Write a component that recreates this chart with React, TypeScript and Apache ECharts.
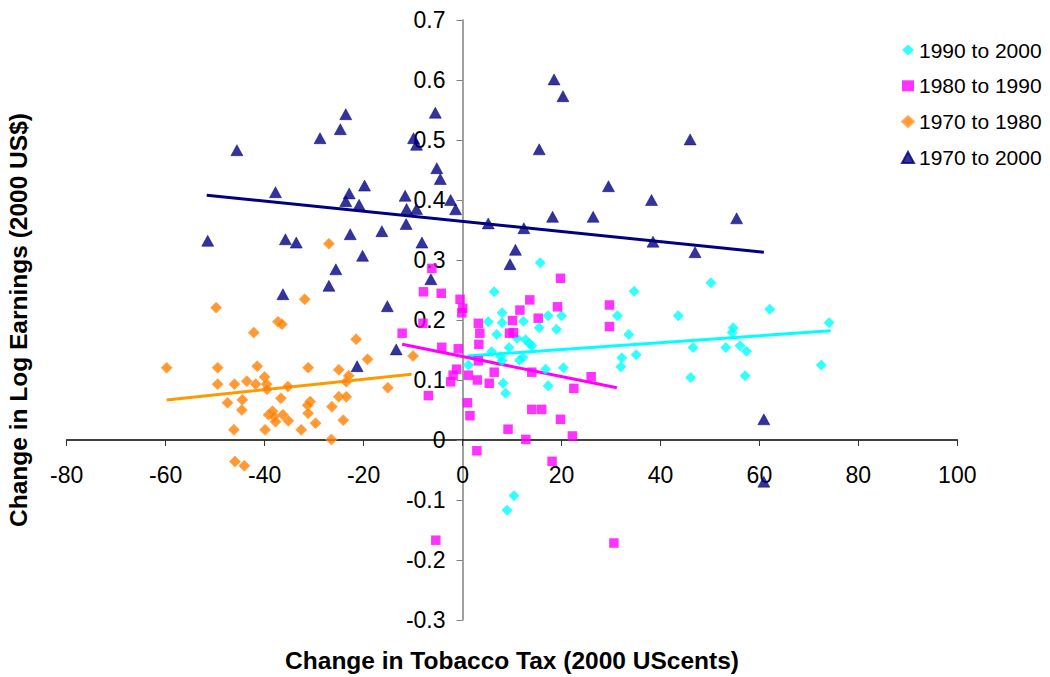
import React, { useEffect, useRef } from "react";
import * as echarts from "echarts";

// Tick settings
const xTicks = { min: -80, max: 100, interval: 20 };
const yTicks = { min: -0.3, max: 0.7, interval: 0.1 };

const legendNames = ["1990 to 2000", "1980 to 1990", "1970 to 1980", "1970 to 2000"];

// 1990 to 2000 (cyan diamonds)
const pts1990to2000: number[][] = [
  [1.2, 0.125], [5.2, 0.197], [5.9, 0.147], [6.4, 0.247], [6.9, 0.176], [7.7, 0.139],
  [8.0, 0.132], [8.0, 0.212], [8.0, 0.1955], [8.2, 0.0945], [8.7, 0.078], [9.4, 0.154],
  [9.0, -0.117], [10.4, -0.093], [11.0, 0.1695], [11.5, 0.133], [12.2, 0.138], [12.3, 0.198],
  [12.7, 0.167], [13.5, 0.161], [14.0, 0.157], [15.5, 0.187], [15.7, 0.2955], [16.8, 0.118],
  [17.3, 0.207], [17.3, 0.0905], [19.0, 0.1845], [20.0, 0.207], [20.4, 0.1205], [31.3, 0.207],
  [32.0, 0.122], [32.2, 0.137], [33.6, 0.176], [34.7, 0.248], [35.1, 0.142], [43.6, 0.207],
  [46.1, 0.104], [46.6, 0.154], [50.2, 0.262], [53.2, 0.154], [54.5, 0.179], [54.7, 0.187],
  [56.1, 0.157], [57.1, 0.107], [57.4, 0.148], [62.1, 0.218], [72.5, 0.125], [74.1, 0.1955],
];

// 1980 to 1990 (magenta squares)
const pts1980to1990: number[][] = [
  [-12.2, 0.178], [-8.0, 0.1945], [-7.9, 0.247], [-6.2, 0.286], [-4.3, 0.2445], [-6.9, 0.074],
  [-5.4, -0.167], [-4.2, 0.1545], [-0.85, 0.152], [-0.5, 0.2345], [0.05, 0.2195], [-0.15, 0.212],
  [-1.2, 0.118], [-1.9, 0.108], [-2.4, 0.097], [1.2, 0.108], [1.0, 0.062], [1.5, 0.0405],
  [2.9, -0.018], [3.2, 0.1945], [3.5, 0.178], [3.3, 0.1595], [3.2, 0.132], [3.0, 0.1],
  [5.4, 0.0945], [6.4, 0.113], [9.2, 0.018], [9.5, 0.178], [10.1, 0.199], [10.3, 0.179],
  [11.6, 0.2165], [12.8, 0.001], [13.6, 0.2335], [14.0, 0.113], [14.0, 0.051], [16.0, 0.051],
  [15.3, 0.203], [18.1, -0.0355], [19.2, 0.222], [19.8, 0.2695], [19.8, 0.0345], [22.2, 0.0067],
  [22.5, 0.086], [26.0, 0.1055], [29.7, 0.225], [29.7, 0.189], [30.6, -0.1717],
];

// 1970 to 1980 (orange diamonds)
const pts1970to1980: number[][] = [
  [-59.8, 0.1205], [-49.8, 0.2205], [-49.5, 0.1205], [-49.5, 0.093], [-47.5, 0.062], [-46.1, 0.093],
  [-46.2, 0.017], [-46.0, -0.036], [-44.1, -0.043], [-44.5, 0.067], [-44.6, 0.05], [-43.6, 0.098],
  [-42.2, 0.179], [-41.8, 0.093], [-41.5, 0.123], [-40.0, 0.105], [-39.6, 0.093], [-39.5, 0.0845],
  [-39.9, 0.017], [-39.2, 0.042], [-38.4, 0.048], [-38.1, 0.039], [-37.8, 0.0305], [-37.3, 0.197],
  [-36.5, 0.193], [-36.7, 0.0695], [-36.3, 0.042], [-35.3, 0.089], [-35.2, 0.032], [-32.6, 0.017],
  [-31.9, 0.2345], [-31.2, 0.1205], [-30.8, 0.064], [-31.3, 0.058], [-31.2, 0.0445], [-29.7, 0.028],
  [-27.0, 0.327], [-26.5, 0.001], [-26.4, 0.0555], [-25.0, 0.117], [-25.0, 0.072], [-23.5, 0.072],
  [-23.5, 0.097], [-23.0, 0.107], [-24.1, 0.033], [-21.5, 0.168], [-19.2, 0.1345], [-15.1, 0.087],
  [-10.0, 0.14],
];

// 1970 to 2000 (navy triangles)
const pts1970to2000: number[][] = [
  [-51.5, 0.332], [-45.6, 0.483], [-37.8, 0.413], [-36.3, 0.243], [-35.8, 0.3345], [-33.6, 0.329],
  [-28.8, 0.503], [-27.0, 0.257], [-25.6, 0.2845], [-24.7, 0.518], [-23.6, 0.543], [-22.9, 0.411],
  [-23.6, 0.398], [-22.7, 0.343], [-21.3, 0.123], [-20.9, 0.392], [-19.8, 0.424], [-20.2, 0.307],
  [-16.3, 0.348], [-15.2, 0.223], [-13.4, 0.151], [-11.6, 0.407], [-11.3, 0.385], [-11.4, 0.36],
  [-9.9, 0.503], [-9.3, 0.492], [-9.3, 0.385], [-8.2, 0.329], [-6.4, 0.268], [-5.5, 0.5455],
  [-5.2, 0.453], [-4.5, 0.435], [-2.4, 0.4], [-1.4, 0.3845], [5.2, 0.361], [9.6, 0.293],
  [10.7, 0.317], [12.4, 0.353], [15.5, 0.4845], [18.2, 0.372], [18.5, 0.601], [20.3, 0.573],
  [26.4, 0.372], [29.5, 0.423], [38.2, 0.4], [38.5, 0.3305], [46.0, 0.501], [47.0, 0.313],
  [55.4, 0.3695], [60.9, 0.0345], [60.9, -0.0695],
];

// Linear trend lines (endpoints)
const trend1990to2000: number[][] = [[1.0, 0.14], [74.4, 0.182]];
const trend1980to1990: number[][] = [[-12.2, 0.1595], [31.2, 0.087]];
const trend1970to1980: number[][] = [[-59.8, 0.0667], [-10.3, 0.1095]];
const trend1970to2000: number[][] = [[-51.7, 0.408], [60.9, 0.313]];

const FONT = '"Liberation Sans", Arial, Helvetica, sans-serif';

// Plot box
const GRID = { left: 66.7, right: 92.7, top: 20, bottom: 57 };
const CHART_W = 1050;
const CHART_H = 677;

export default function App() {
  const ref = useRef<HTMLDivElement>(null);

  useEffect(() => {
    if (!ref.current) return;
    const chart = echarts.init(ref.current, undefined, { renderer: "svg" });

    // Axes cross at the origin: shift each axis from the grid edge to the zero line
    const plotW = CHART_W - GRID.left - GRID.right;
    const plotH = CHART_H - GRID.top - GRID.bottom;
    const xZeroOffset = -((0 - xTicks.min) / (xTicks.max - xTicks.min)) * plotW;
    const yZeroOffset = -((0 - yTicks.min) / (yTicks.max - yTicks.min)) * plotH;

    const trend = (name: string, data: number[][], color: string) => ({
      name,
      type: "line",
      data,
      showSymbol: false,
      symbol: "none",
      lineStyle: { color, width: 3 },
      z: 1,
      silent: true,
    });

    chart.setOption({
      animation: false,
      backgroundColor: "#ffffff",
      textStyle: { fontFamily: FONT },
      grid: { ...GRID, containLabel: false, outerBoundsMode: "none" },
      legend: {
        orient: "vertical",
        left: 896,
        top: 34,
        itemWidth: 12,
        itemHeight: 11,
        itemGap: 13.8,
        textStyle: { fontSize: 21, color: "#000", fontFamily: FONT, lineHeight: 22 },
        data: [
          { name: legendNames[0], icon: "diamond" },
          { name: legendNames[1], icon: "rect" },
          { name: legendNames[2], icon: "diamond" },
          { name: legendNames[3], icon: "triangle" },
        ],
      },
      xAxis: {
        type: "value",
        position: "bottom",
        offset: yZeroOffset,
        min: xTicks.min,
        max: xTicks.max,
        interval: xTicks.interval,
        name: "Change in Tobacco Tax (2000 UScents)",
        nameLocation: "middle",
        nameGap: 208,
        nameTextStyle: { fontSize: 24.5, fontWeight: "bold", color: "#000", fontFamily: FONT },
        axisLine: { onZero: false, lineStyle: { color: "#000", width: 1.5 } },
        axisTick: { show: true, inside: false, length: 6, lineStyle: { color: "#333" } },
        axisLabel: { fontSize: 23, color: "#000", margin: 23, fontFamily: FONT },
        splitLine: { show: false },
      },
      yAxis: {
        type: "value",
        position: "left",
        offset: xZeroOffset,
        min: yTicks.min,
        max: yTicks.max,
        interval: yTicks.interval,
        name: "Change in Log Earnings (2000 US$)",
        nameLocation: "middle",
        nameGap: 432,
        nameTextStyle: { fontSize: 24.5, fontWeight: "bold", color: "#000", fontFamily: FONT },
        axisLine: { onZero: false, lineStyle: { color: "#808080", width: 1.5 } },
        axisTick: { show: true, inside: false, length: 6, lineStyle: { color: "#808080" } },
        axisLabel: {
          fontSize: 23,
          color: "#000",
          margin: 17,
          fontFamily: FONT,
          formatter: (v: number) => String(Math.round(v * 10) / 10),
        },
        splitLine: { show: false },
      },
      series: [
        trend("trend 1990 to 2000", trend1990to2000, "#00FFFF"),
        trend("trend 1980 to 1990", trend1980to1990, "#FF00FF"),
        trend("trend 1970 to 1980", trend1970to1980, "#FF9900"),
        trend("trend 1970 to 2000", trend1970to2000, "#000080"),
        {
          name: legendNames[0],
          type: "scatter",
          data: pts1990to2000,
          symbol: "diamond",
          symbolSize: 11,
          itemStyle: { color: "#00FFFF" },
          z: 3,
        },
        {
          name: legendNames[1],
          type: "scatter",
          data: pts1980to1990,
          symbol: "rect",
          symbolSize: 9.5,
          itemStyle: { color: "#FF00FF" },
          z: 3,
        },
        {
          name: legendNames[2],
          type: "scatter",
          data: pts1970to1980,
          symbol: "diamond",
          symbolSize: 11,
          itemStyle: { color: "#FF8000", borderColor: "#FFA64D", borderWidth: 1 },
          z: 3,
        },
        {
          name: legendNames[3],
          type: "scatter",
          data: pts1970to2000,
          symbol: "triangle",
          symbolSize: [12, 11],
          itemStyle: { color: "#000080", borderColor: "#000080", borderWidth: 0.6 },
          z: 3,
        },
      ],
    });

    return () => chart.dispose();
  }, []);

  return (
    <div
      ref={ref}
      style={{ position: "fixed", left: 0, top: 0, width: CHART_W, height: CHART_H, background: "#fff" }}
    />
  );
}
